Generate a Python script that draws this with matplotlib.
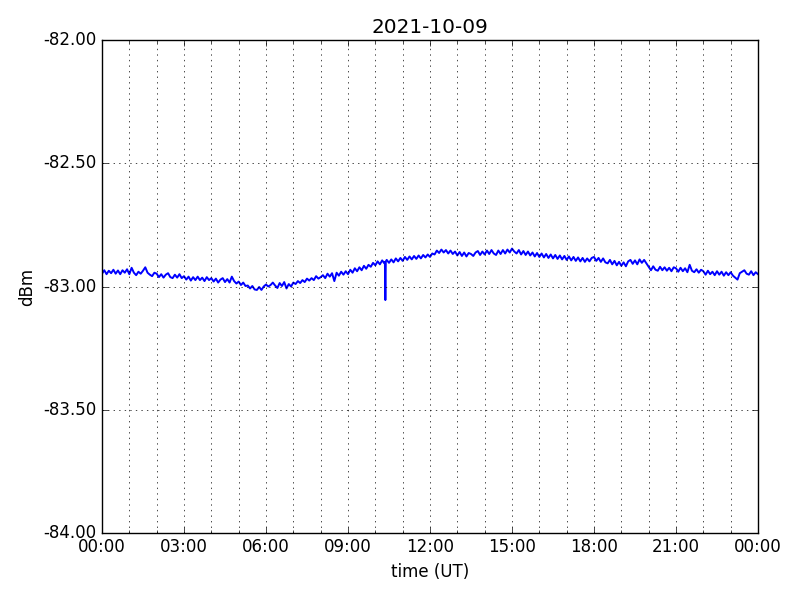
import numpy as np
import datetime as dt
import matplotlib
matplotlib.use('Agg')
import matplotlib.pyplot as plt
import matplotlib.dates as mdates
from matplotlib.ticker import FormatStrFormatter, MultipleLocator

plt.style.use('classic')

day = dt.datetime(2021, 10, 9)

# signal level, one reading every 5 minutes (00:00 .. 24:00), one row per hour
level = [
	-82.948, -82.934, -82.950, -82.936, -82.946, -82.932, -82.948, -82.935, -82.950, -82.934, -82.944, -82.930,
	-82.950, -82.924, -82.944, -82.954, -82.940, -82.948, -82.936, -82.922, -82.944, -82.952, -82.958, -82.944,
	-82.948, -82.962, -82.950, -82.964, -82.952, -82.946, -82.962, -82.966, -82.952, -82.964, -82.950, -82.966,
	-82.958, -82.972, -82.960, -82.976, -82.962, -82.974, -82.960, -82.974, -82.964, -82.978, -82.962, -82.974,
	-82.966, -82.980, -82.968, -82.984, -82.972, -82.966, -82.982, -82.970, -82.984, -82.960, -82.978, -82.988,
	-82.980, -82.994, -82.984, -82.998, -82.996, -83.008, -82.998, -83.012, -83.014, -83.002, -83.014, -83.000,
	-82.992, -83.000, -82.994, -82.984, -82.996, -83.006, -82.986, -82.998, -82.982, -83.008, -82.990, -83.000,
	-82.984, -82.990, -82.978, -82.986, -82.974, -82.982, -82.968, -82.976, -82.966, -82.974, -82.958, -82.968,
	-82.962, -82.954, -82.966, -82.948, -82.960, -82.946, -82.978, -82.944, -82.956, -82.940, -82.952, -82.938,
	-82.950, -82.932, -82.944, -82.926, -82.938, -82.922, -82.934, -82.916, -82.928, -82.912, -82.920, -82.904,
	-82.914, -82.898, -82.910, -82.894, -82.906, -82.892, -82.904, -82.890, -82.902, -82.886, -82.898, -82.884,
	-82.896, -82.880, -82.892, -82.878, -82.890, -82.876, -82.888, -82.874, -82.886, -82.872, -82.882, -82.870,
	-82.880, -82.866, -82.870, -82.854, -82.864, -82.850, -82.862, -82.852, -82.866, -82.854, -82.868, -82.858,
	-82.874, -82.860, -82.876, -82.862, -82.878, -82.864, -82.868, -82.876, -82.862, -82.856, -82.872, -82.858,
	-82.870, -82.854, -82.868, -82.852, -82.866, -82.872, -82.854, -82.868, -82.852, -82.866, -82.850, -82.862,
	-82.846, -82.858, -82.866, -82.852, -82.870, -82.856, -82.872, -82.858, -82.874, -82.862, -82.878, -82.864,
	-82.880, -82.866, -82.882, -82.868, -82.884, -82.870, -82.886, -82.872, -82.888, -82.874, -82.890, -82.876,
	-82.892, -82.878, -82.894, -82.880, -82.896, -82.882, -82.898, -82.884, -82.900, -82.886, -82.898, -82.884,
	-82.880, -82.896, -82.884, -82.900, -82.886, -82.902, -82.906, -82.892, -82.910, -82.896, -82.914, -82.900,
	-82.916, -82.902, -82.918, -82.898, -82.892, -82.908, -82.894, -82.910, -82.890, -82.904, -82.892, -82.906,
	-82.920, -82.934, -82.918, -82.932, -82.936, -82.920, -82.934, -82.922, -82.936, -82.924, -82.938, -82.922,
	-82.926, -82.940, -82.924, -82.938, -82.926, -82.942, -82.912, -82.936, -82.942, -82.930, -82.944, -82.932,
	-82.938, -82.952, -82.936, -82.950, -82.940, -82.954, -82.938, -82.952, -82.940, -82.956, -82.942, -82.954,
	-82.942, -82.956, -82.964, -82.972, -82.946, -82.940, -82.934, -82.948, -82.952, -82.938, -82.954, -82.942,
	-82.950,
]
minutes = list(range(0, 1441, 5))

# short dropout around 10:21
spike_minutes = [621, 622, 623]
spike_level = [-82.900, -83.055, -82.898]

#merge the two series by time
t = minutes + spike_minutes
v = level + spike_level
order = np.argsort(t, kind='stable')
times = [day + dt.timedelta(minutes=int(t[i])) for i in order]
vals = [v[i] for i in order]

fig = plt.figure(figsize=(8, 6), dpi=100, facecolor='white')
ax = fig.add_subplot(111)
fig.subplots_adjust(left=0.1275, right=0.9475, top=0.933, bottom=0.112)

ax.plot(times, vals, color='b', lw=1.4)

ax.set_xlim(day, day + dt.timedelta(days=1))
ax.set_ylim(-84, -82)
ax.xaxis.set_major_locator(mdates.HourLocator(byhour=range(0, 24, 3)))
ax.xaxis.set_minor_locator(mdates.HourLocator())
ax.xaxis.set_major_formatter(mdates.DateFormatter('%H:%M'))
ax.yaxis.set_major_locator(MultipleLocator(0.5))
ax.yaxis.set_major_formatter(FormatStrFormatter('%.2f'))
ax.grid(True, which='major')
ax.grid(True, which='minor', axis='x')

ax.set_title('2021-10-09')
ax.set_xlabel('time (UT)')
ax.set_ylabel('dBm')

fig.savefig('out.png', dpi=100, facecolor='white')
